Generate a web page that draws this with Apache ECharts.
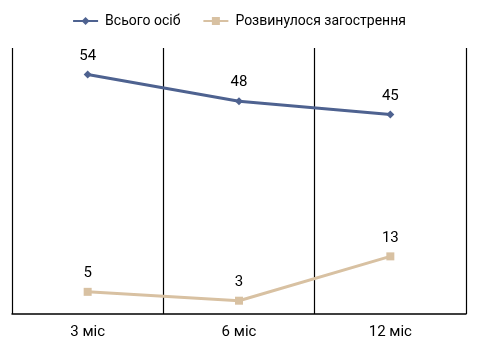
<!DOCTYPE html>
<html lang="uk">
<head>
    <meta charset="UTF-8">
    <title>chart</title>
    <script src="https://cdnjs.cloudflare.com/ajax/libs/echarts/6.0.0/echarts.min.js"></script>
    <style>
        body { margin: 0; background: #fff; }
        #main { width: 478px; height: 354px; }
    </style>
</head>
<body>
    <div id="main"></div>
    <script>
        // дані з графіка
        const categories = ["3 міс", "6 міс", "12 міс"];
        const totalName = "Всього осіб";
        const totalValues = [54, 48, 45];
        const worseName = "Розвинулося загострення";
        const worseValues = [5, 3, 13];

        const font = "Roboto, 'Liberation Sans', sans-serif";
        const chart = echarts.init(document.getElementById('main'));

        const option = {
            animation: false,
            textStyle: { fontFamily: font },
            legend: {
                top: 9,
                left: 'center',
                itemWidth: 25,
                itemHeight: 10,
                itemGap: 22,
                textStyle: { fontSize: 14, color: '#000', fontFamily: font, padding: [0, 0, 0, 2] },
                data: [totalName, worseName]
            },
            grid: { left: 12, right: 12, top: 48, bottom: 40 },
            xAxis: {
                type: 'category',
                data: categories,
                boundaryGap: true,
                axisTick: { show: false },
                axisLine: { lineStyle: { color: '#000', width: 1.5 } },
                splitLine: { show: true, lineStyle: { color: '#000', width: 1.2 } },
                axisLabel: { color: '#000', fontSize: 15, margin: 11, fontFamily: font }
            },
            yAxis: {
                type: 'value',
                min: 0,
                max: 60,
                show: false
            },
            series: [
                {
                    name: totalName,
                    type: 'line',
                    data: totalValues,
                    symbol: 'diamond',
                    symbolSize: 8,
                    itemStyle: { color: '#4e6290' },
                    lineStyle: { color: '#4e6290', width: 3 },
                    label: { show: true, position: 'top', distance: 7, color: '#000', fontSize: 15, fontFamily: font }
                },
                {
                    name: worseName,
                    type: 'line',
                    data: worseValues,
                    symbol: 'rect',
                    symbolSize: 8,
                    itemStyle: { color: '#d8c1a2' },
                    lineStyle: { color: '#d8c1a2', width: 3 },
                    label: { show: true, position: 'top', distance: 7, color: '#000', fontSize: 15, fontFamily: font }
                }
            ]
        };

        chart.setOption(option);
    </script>
</body>
</html>
